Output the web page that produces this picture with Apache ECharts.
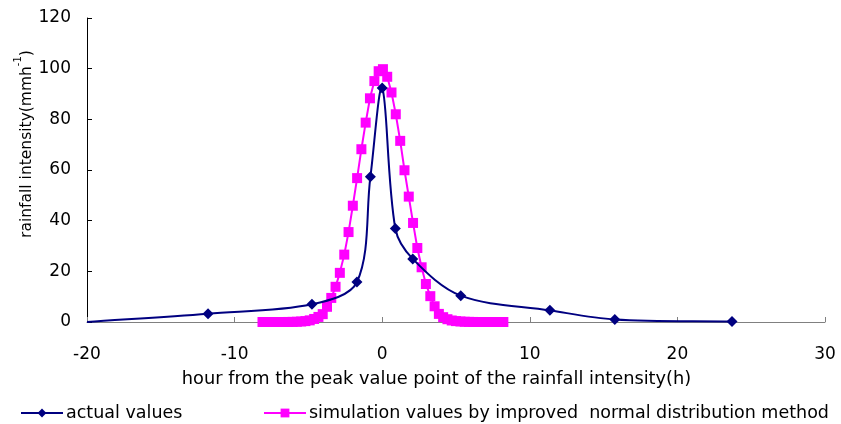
<!DOCTYPE html>
<html><head><meta charset="utf-8">
<script src="https://cdn.jsdelivr.net/npm/echarts@6/dist/echarts.min.js"></script>
<style>html,body{margin:0;padding:0;background:#fff}#c{width:841px;height:424px}</style>
</head><body><div id="c"></div>
<script>
const xTicks = [-20, -10, 0, 10, 20, 30];
const yTicks = [0, 20, 40, 60, 80, 100, 120];
const seriesNames = ['actual values', 'simulation values by improved  normal distribution method'];
const actualHours = [-20, -11.8, -4.76, -1.71, -0.8, 0, 0.89, 2.07, 5.32, 11.36, 15.76, 23.7];
const actualValues = [0, 3.3, 7.0, 15.8, 57.3, 92.4, 36.9, 24.9, 10.4, 4.6, 1.0, 0.2];
const simHours = [-8.11, -7.82, -7.53, -7.24, -6.95, -6.65, -6.36, -6.07, -5.78, -5.49, -5.20, -4.91, -4.61, -4.32, -4.03, -3.74, -3.45, -3.16, -2.87, -2.57, -2.28, -1.99, -1.70, -1.41, -1.12, -0.83, -0.53, -0.24,
  0.05,
  0.34, 0.63, 0.92, 1.22, 1.51, 1.80, 2.09, 2.38, 2.67, 2.96, 3.26, 3.55, 3.84, 4.13, 4.42, 4.71, 5.00, 5.30, 5.59, 5.88, 6.17, 6.46, 6.75, 7.04, 7.34, 7.63, 7.92, 8.21];
const simValues = [0, 0, 0, 0, 0, 0, 0.02, 0.05, 0.1, 0.2, 0.35, 0.65, 1.2, 2.0, 3.1, 6.0, 9.5, 13.9, 19.4, 26.6, 35.5, 45.9, 56.8, 68.2, 78.7, 88.3, 95.1, 99.0,
  99.8,
  96.8, 90.6, 82.0, 71.5, 59.9, 49.5, 39.1, 29.2, 21.6, 15.0, 10.2, 6.2, 3.2, 1.9, 1.1, 0.6, 0.35, 0.2, 0.1, 0.05, 0.02, 0, 0, 0, 0, 0, 0, 0];
const xName = 'hour from the peak value point of the rainfall intensity(h)';
const yNameMain = 'rainfall intensity(mmh';
const yNameSup = '-1';

const FONT = '"DejaVu Sans", sans-serif';
const NAVY = '#000080';
const MAGENTA = '#FF00FF';
const chart = echarts.init(document.getElementById('c'), null, {renderer: 'canvas'});
const actualData = actualHours.map((h, i) => (i === 0 ? {value: [h, actualValues[i]], symbol: 'none'} : [h, actualValues[i]]));
const simData = simHours.map((h, i) => [h, simValues[i]]);

// Smoothed curve through the actual values (chord-weighted Bezier), positioned via the axes
function renderSmooth(params, api) {
  if (params.dataIndex !== 0) return null;
  const P = actualHours.map((h, i) => api.coord([h, actualValues[i]]));
  const n = P.length;
  const K = 1 / 3;
  const dist = (a, b) => Math.hypot(a[0] - b[0], a[1] - b[1]);
  // control offsets around each point
  const before = [], after = [];
  for (let i = 0; i < n; i++) {
    const prev = P[Math.max(i - 1, 0)], next = P[Math.min(i + 1, n - 1)];
    const vx = next[0] - prev[0], vy = next[1] - prev[1];
    const lp = dist(P[i], prev), ln = dist(P[i], next);
    const s = lp + ln || 1;
    before.push([P[i][0] - vx * K * lp / s, P[i][1] - vy * K * lp / s]);
    after.push([P[i][0] + vx * K * ln / s, P[i][1] + vy * K * ln / s]);
  }
  const children = [];
  for (let i = 0; i < n - 1; i++) {
    children.push({
      type: 'bezierCurve',
      shape: {
        x1: P[i][0], y1: P[i][1], x2: P[i + 1][0], y2: P[i + 1][1],
        cpx1: after[i][0], cpy1: after[i][1], cpx2: before[i + 1][0], cpy2: before[i + 1][1]
      },
      style: {stroke: NAVY, lineWidth: 2, fill: null}
    });
  }
  return {type: 'group', children: children};
}

chart.setOption({
  animation: false,
  backgroundColor: '#fff',
  grid: {left: 87, right: 16, top: 18, bottom: 102, containLabel: false},
  xAxis: {
    type: 'value', min: xTicks[0], max: xTicks[xTicks.length - 1], interval: 10,
    axisLine: {onZero: false, lineStyle: {color: '#808080', width: 1}},
    axisTick: {inside: true, length: 5, lineStyle: {color: '#808080'}},
    axisLabel: {margin: 24, color: '#000', fontFamily: FONT, fontSize: 17},
    splitLine: {show: false}
  },
  yAxis: {
    type: 'value', min: yTicks[0], max: yTicks[yTicks.length - 1], interval: 20,
    axisLine: {show: true, onZero: false, lineStyle: {color: '#000', width: 1}},
    axisTick: {show: true, inside: true, length: 5, lineStyle: {color: '#000'}},
    axisLabel: {margin: 16, color: '#000', fontFamily: FONT, fontSize: 17},
    splitLine: {show: false}
  },
  legend: [
    {data: [seriesNames[0]], left: 15, top: 399, itemWidth: 42, itemHeight: 11, itemGap: 0,
     lineStyle: {width: 2, color: NAVY, opacity: 1},
     textStyle: {fontFamily: FONT, fontSize: 17.5, color: '#000', padding: [0, 0, 0, -2]}},
    {data: [seriesNames[1]], left: 258, top: 399, itemWidth: 42, itemHeight: 11, itemGap: 0,
     lineStyle: {width: 2, color: MAGENTA, opacity: 1},
     textStyle: {fontFamily: FONT, fontSize: 17.5, color: '#000', padding: [0, 0, 0, -2]}}
  ],
  graphic: [
    {type: 'text', x: 436.5, y: 379, silent: true,
     style: {text: xName, fill: '#000', font: '17.8px ' + FONT, align: 'center', verticalAlign: 'middle'}},
    {type: 'text', x: 24, y: 144, rotation: Math.PI / 2, silent: true,
     style: {text: '{a|' + yNameMain + '}{b|' + yNameSup + '}{a|)}', align: 'center', verticalAlign: 'middle',
       rich: {a: {fontFamily: FONT, fontSize: 15.5, fill: '#000', color: '#000', verticalAlign: 'bottom', lineHeight: 22},
              b: {fontFamily: FONT, fontSize: 10, fill: '#000', color: '#000', verticalAlign: 'top', lineHeight: 22}}}}
  ],
  series: [
    {name: seriesNames[0], type: 'line', data: actualData, z: 5,
     symbol: 'diamond', symbolSize: 11, clip: false,
     lineStyle: {color: NAVY, width: 2, opacity: 0}, itemStyle: {color: NAVY}},
    {name: seriesNames[1], type: 'line', data: simData, z: 3,
     symbol: 'rect', symbolSize: 10, clip: false,
     lineStyle: {color: MAGENTA, width: 2}, itemStyle: {color: MAGENTA}},
    {name: 'actual values curve', type: 'custom', data: [[actualHours[0], actualValues[0]]], z: 4,
     renderItem: renderSmooth, silent: true}
  ]
});
</script></body></html>
